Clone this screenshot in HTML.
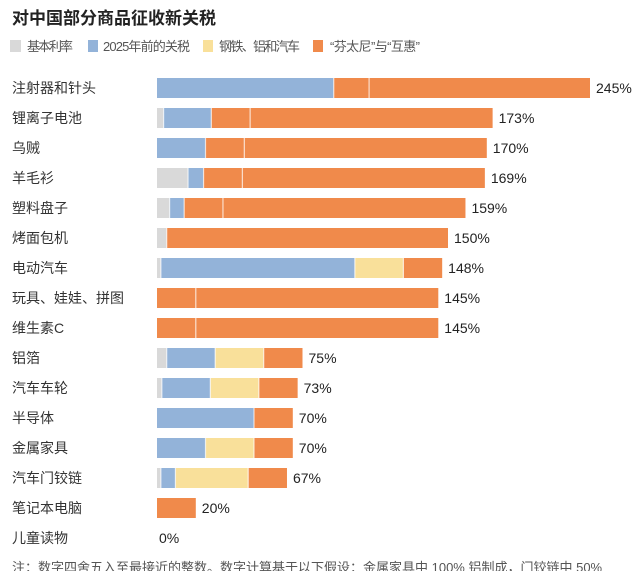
<!DOCTYPE html>
<html><head><meta charset="utf-8"><style>
body{margin:0;background:#fff;}
svg{display:block;font-family:"Liberation Sans","Noto Sans CJK SC",sans-serif;}
</style></head><body>
<svg id="chart" width="640" height="571" viewBox="0 0 640 571">
<text x="12" y="24" font-size="17" font-weight="bold" fill="#222">对中国部分商品征收新关税</text>
<g font-size="13" fill="#555">
<g><rect x="10" y="40" width="11" height="12" fill="#d9d9d9"/><text x="27" y="51" textLength="46">基本利率</text></g>
<g><rect x="88" y="40" width="10" height="12" fill="#93b3d9"/><text x="103" y="51" textLength="87">2025年前的关税</text></g>
<g><rect x="203" y="40" width="10" height="12" fill="#f9e09a"/><text x="219" y="51" textLength="81">钢铁、铝和汽车</text></g>
<g><rect x="313" y="40" width="10" height="12" fill="#f08a4b"/><text x="330" y="51" textLength="90">“芬太尼”与“互惠”</text></g>
</g>
<g id="bars"></g>
<text x="12" y="572" font-size="13" fill="#555">注：数字四舍五入至最接近的整数。数字计算基于以下假设：金属家具中 100% 铝制成，门铰链中 50%</text>
</svg>
<script>
const categories=["注射器和针头","锂离子电池","乌贼","羊毛衫","塑料盘子","烤面包机","电动汽车","玩具、娃娃、拼图","维生素C","铝箔","汽车车轮","半导体","金属家具","汽车门铰链","笔记本电脑","儿童读物"];
const baseRate=[0,3.4,0,16,6.5,5,2,0,0,5,2.5,0,0,2,0,0];
const pre2025=[100,24.6,25,8,7.5,0,100,0,0,25,25,50,25,7.5,0,0];
const steelAuto=[0,0,0,0,0,0,25,0,0,25,25,0,25,37.5,0,0];
const fentanyl=[20,20,20,20,20,0,20,20,20,20,20,20,20,20,20,0];
const reciprocal=[125,125,125,125,125,145,0,125,125,0,0,0,0,0,0,0];
const totalLabels=["245%","173%","170%","169%","159%","150%","148%","145%","145%","75%","73%","70%","70%","67%","20%","0%"];
const x0=157,pxPer=1.94,maxW=433,rowY0=78,rowStep=30,barH=20;
const colors=["#d9d9d9","#93b3d9","#f9e09a","#f08a4b","#f08a4b"];
const ns="http://www.w3.org/2000/svg";
const g=document.getElementById('bars');
categories.forEach((c,i)=>{
  const y=rowY0+i*rowStep;
  const t=document.createElementNS(ns,'text');
  
  
  t.setAttribute('x',12);t.setAttribute('y',y+15);t.setAttribute('font-size',14);t.setAttribute('fill','#333');
  t.textContent=c;g.appendChild(t);
  const segs=[baseRate[i],pre2025[i],steelAuto[i],fentanyl[i],reciprocal[i]];
  const tot=segs.reduce((a,b)=>a+b,0);
  let s=pxPer; if(tot*s>maxW) s=maxW/tot;
  let x=x0;
  segs.forEach((v,k)=>{
    if(v<=0)return;
    const r=document.createElementNS(ns,'rect');
    
    
    r.setAttribute('x',x);r.setAttribute('y',y);r.setAttribute('width',v*s);r.setAttribute('height',barH);r.setAttribute('fill',colors[k]);
    g.appendChild(r);
    if(k>0&&x>x0){
      const l=document.createElementNS(ns,'rect');
      
      
      l.setAttribute('x',x-0.6);l.setAttribute('y',y);l.setAttribute('width',1.2);l.setAttribute('height',barH);l.setAttribute('fill','#fff');l.setAttribute('opacity','0.7');
      g.appendChild(l);
    }
    x+=v*s;
  });
  const lb=document.createElementNS(ns,'text');
  
  
  lb.setAttribute('x',x+(tot>0?6:2));lb.setAttribute('y',y+15);lb.setAttribute('font-size',14);lb.setAttribute('fill','#222');
  lb.textContent=totalLabels[i];g.appendChild(lb);
});
</script>
</body></html>
